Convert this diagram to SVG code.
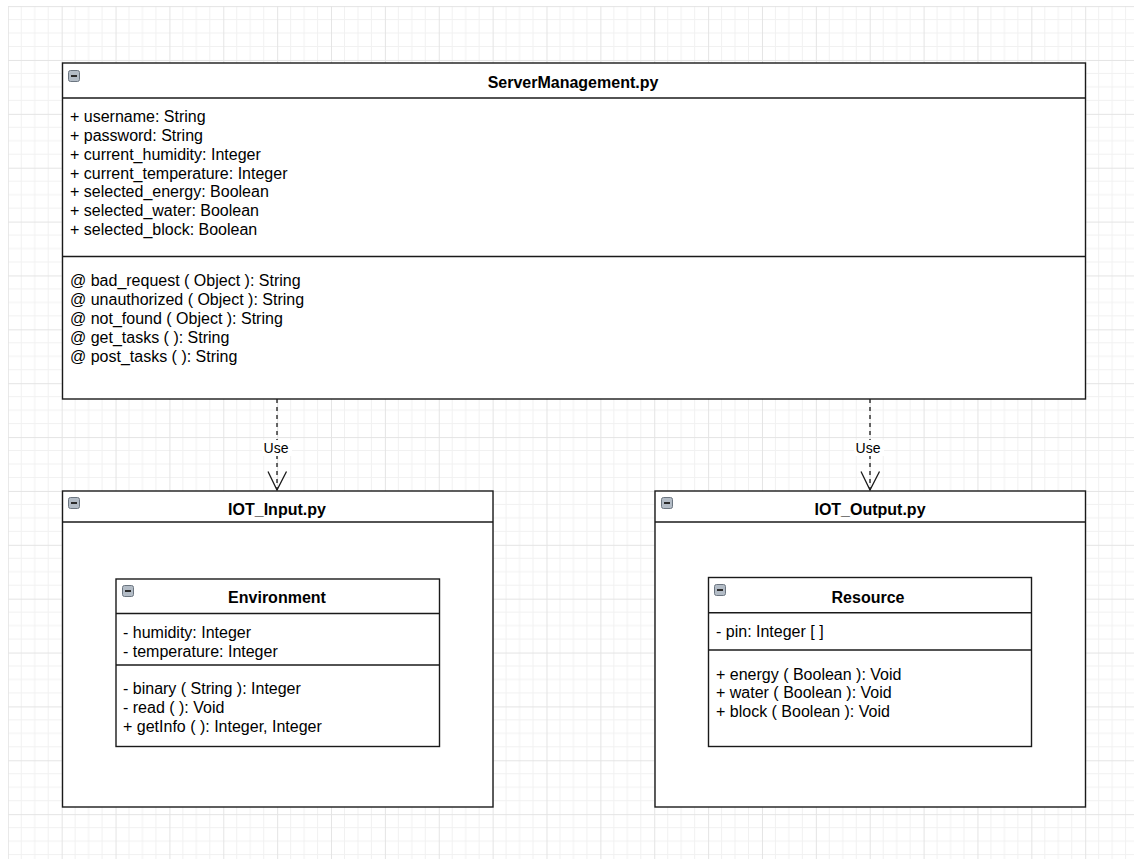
<svg xmlns="http://www.w3.org/2000/svg" width="1134" height="859" viewBox="0 0 1134 859">
  <style>
    .box { fill: #ffffff; stroke: #1a1a1a; stroke-width: 1.4; }
    .div { stroke: #1a1a1a; stroke-width: 1.4; fill: none; }
    .t { font-family: "Liberation Sans", Arial, Helvetica, sans-serif; font-size: 16px; fill: #000000; }
    .title { font-family: "Liberation Sans", Arial, Helvetica, sans-serif; font-size: 16px; font-weight: bold; fill: #000000; text-anchor: middle; }
    .lbl { font-family: "Liberation Sans", Arial, Helvetica, sans-serif; font-size: 14px; fill: #000000; text-anchor: middle; }
    .edge { stroke: #1a1a1a; stroke-width: 1.3; fill: none; stroke-dasharray: 4 4; }
    .head { stroke: #1a1a1a; stroke-width: 1.3; fill: none; }
    .icon { fill: #b3bcc6; stroke: #6b7580; stroke-width: 1; }
    .minus { stroke: #2b2b2b; stroke-width: 2; }
  </style>
  <defs>
    <pattern id="grid" x="7.8" y="6.1" width="53.87" height="53.87" patternUnits="userSpaceOnUse">
      <path d="M13.47 0 V53.87 M26.94 0 V53.87 M40.4 0 V53.87 M0 13.47 H53.87 M0 26.94 H53.87 M0 40.4 H53.87" stroke="#f1f1f1" stroke-width="1" fill="none"/>
      <path d="M0.5 0 V53.87 M0 0.5 H53.87" stroke="#e4e4e4" stroke-width="1" fill="none"/>
    </pattern>
    <g id="collapse">
      <rect class="icon" x="0.5" y="0.5" width="11" height="11" rx="2"/>
      <line class="minus" x1="3" y1="6" x2="9" y2="6"/>
    </g>
  </defs>

  <rect x="0" y="0" width="1134" height="859" fill="#ffffff"/>
  <rect x="8" y="6" width="1126" height="853" fill="url(#grid)"/>

  <g id="connectors">
    <g id="edge-left">
      <line class="edge" x1="277" y1="399" x2="277" y2="490"/>
      <polyline class="head" points="268,471.5 277,490 286.5,471.5"/>
      <rect x="262" y="440" width="30" height="16" fill="#ffffff"/>
      <text class="lbl" x="276" y="453">Use</text>
    </g>
    <g id="edge-right">
      <line class="edge" x1="870" y1="399" x2="870" y2="490"/>
      <polyline class="head" points="861,471.5 870,490 879.5,471.5"/>
      <rect x="854" y="440" width="30" height="16" fill="#ffffff"/>
      <text class="lbl" x="868" y="453">Use</text>
    </g>
  </g>

  <g id="ServerManagement">
    <rect class="box" x="62.5" y="63" width="1023" height="336"/>
    <line class="div" x1="62.5" y1="98" x2="1085.5" y2="98"/>
    <line class="div" x1="62.5" y1="256.5" x2="1085.5" y2="256.5"/>
    <use href="#collapse" x="68" y="70"/>
    <text class="title" x="573" y="88">ServerManagement.py</text>
    <text class="t" x="70" y="121.5">+ username: String</text>
    <text class="t" x="70" y="140.5">+ password: String</text>
    <text class="t" x="70" y="159.5">+ current_humidity: Integer</text>
    <text class="t" x="70" y="178.5">+ current_temperature: Integer</text>
    <text class="t" x="70" y="197.3">+ selected_energy: Boolean</text>
    <text class="t" x="70" y="216.2">+ selected_water: Boolean</text>
    <text class="t" x="70" y="235">+ selected_block: Boolean</text>
    <text class="t" x="70" y="286">@ bad_request ( Object ): String</text>
    <text class="t" x="70" y="305">@ unauthorized ( Object ): String</text>
    <text class="t" x="70" y="324">@ not_found ( Object ): String</text>
    <text class="t" x="70" y="342.8">@ get_tasks ( ): String</text>
    <text class="t" x="70" y="361.6">@ post_tasks ( ): String</text>
  </g>

  <g id="IOT_Input">
    <rect class="box" x="62.5" y="491" width="430.5" height="316"/>
    <line class="div" x1="62.5" y1="522" x2="493" y2="522"/>
    <use href="#collapse" x="68" y="497"/>
    <text class="title" x="277" y="515">IOT_Input.py</text>
  </g>

  <g id="Environment">
    <rect class="box" x="116" y="579" width="323.5" height="167.5"/>
    <line class="div" x1="116" y1="613.5" x2="439.5" y2="613.5"/>
    <line class="div" x1="116" y1="665" x2="439.5" y2="665"/>
    <use href="#collapse" x="122" y="585"/>
    <text class="title" x="277" y="603">Environment</text>
    <text class="t" x="123" y="637.5">- humidity: Integer</text>
    <text class="t" x="123" y="656.5">- temperature: Integer</text>
    <text class="t" x="123" y="694">- binary ( String ): Integer</text>
    <text class="t" x="123" y="712.8">- read ( ): Void</text>
    <text class="t" x="123" y="731.6">+ getInfo ( ): Integer, Integer</text>
  </g>

  <g id="IOT_Output">
    <rect class="box" x="655" y="491" width="430.5" height="316"/>
    <line class="div" x1="655" y1="522" x2="1085.5" y2="522"/>
    <use href="#collapse" x="661" y="497"/>
    <text class="title" x="870" y="515">IOT_Output.py</text>
  </g>

  <g id="Resource">
    <rect class="box" x="708.5" y="577.5" width="323" height="169"/>
    <line class="div" x1="708.5" y1="612.7" x2="1031.5" y2="612.7"/>
    <line class="div" x1="708.5" y1="650" x2="1031.5" y2="650"/>
    <use href="#collapse" x="714" y="584"/>
    <text class="title" x="868" y="602.5">Resource</text>
    <text class="t" x="716" y="637">- pin: Integer [ ]</text>
    <text class="t" x="716" y="679.5">+ energy ( Boolean ): Void</text>
    <text class="t" x="716" y="698">+ water ( Boolean ): Void</text>
    <text class="t" x="716" y="716.5">+ block ( Boolean ): Void</text>
  </g>
</svg>
